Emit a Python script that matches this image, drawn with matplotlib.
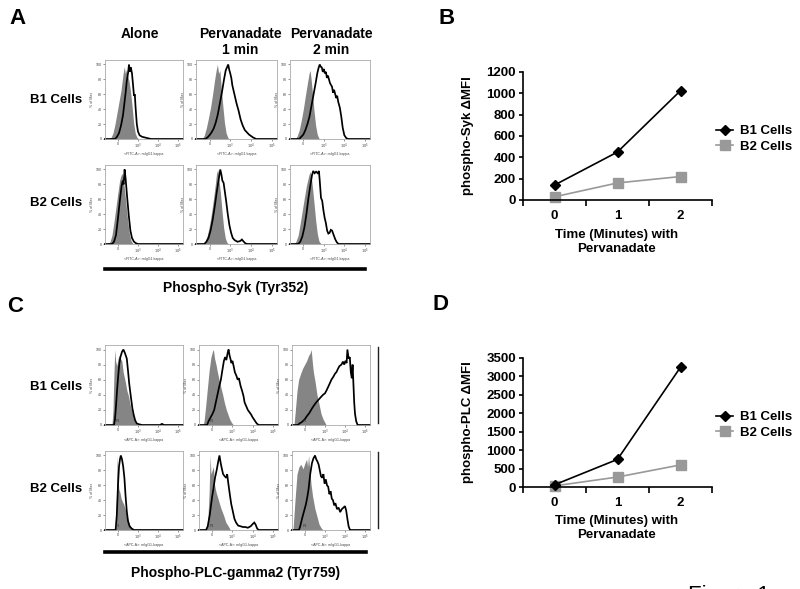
import matplotlib
matplotlib.use("Agg")
import matplotlib.pyplot as plt
from matplotlib.lines import Line2D

plt.rcParams['font.family'] = ['Liberation Sans', 'DejaVu Sans']

W, H = 800, 589

# ---- line plots (panels B and D) ----
minutes = [0, 1, 2]
syk_b1 = [140, 450, 1025]
syk_b2 = [30, 160, 220]
plc_b1 = [60, 750, 3250]
plc_b2 = [30, 270, 600]

# ---- flow histograms: (position, % of max) pairs ----
# x position in decade units: 0 -> "0", 1 -> 10^3, 2 -> 10^4, 3 -> 10^5
syk_b1_alone_ctrl = [(-0.45, 0), (-0.35, 2), (-0.25, 8), (-0.15, 20), (-0.05, 35), (0.05, 50), (0.15, 65),
                     (0.22, 80), (0.28, 92), (0.32, 97), (0.36, 88), (0.42, 93), (0.48, 85), (0.55, 78),
                     (0.62, 65), (0.7, 45), (0.78, 22), (0.86, 8), (0.95, 2), (1.05, 0)]
syk_b1_alone_stim = [(-0.15, 0), (-0.05, 3), (0.05, 8), (0.15, 18), (0.25, 32), (0.32, 48), (0.38, 62),
                     (0.44, 78), (0.5, 88), (0.55, 100), (0.6, 90), (0.64, 96), (0.7, 88), (0.76, 70),
                     (0.8, 58), (0.84, 60), (0.88, 42), (0.94, 20), (1.0, 10), (1.08, 5), (1.2, 3),
                     (1.35, 2), (1.5, 1), (1.65, 0)]
syk_b1_1min_ctrl = [(-0.35, 0), (-0.25, 5), (-0.15, 15), (-0.05, 28), (0.05, 42), (0.15, 60), (0.25, 80),
                    (0.32, 92), (0.38, 100), (0.44, 88), (0.5, 92), (0.56, 70), (0.64, 45), (0.72, 22),
                    (0.8, 8), (0.88, 2), (0.95, 0)]
syk_b1_1min_stim = [(-0.2, 0), (-0.1, 2), (0.0, 5), (0.1, 9), (0.2, 14), (0.3, 22), (0.4, 33), (0.5, 48),
                    (0.6, 63), (0.7, 80), (0.78, 92), (0.84, 96), (0.9, 100), (0.95, 93), (1.0, 88),
                    (1.05, 82), (1.1, 72), (1.2, 60), (1.3, 48), (1.4, 38), (1.5, 26), (1.6, 18),
                    (1.7, 12), (1.8, 9), (1.9, 6), (2.0, 4), (2.1, 2), (2.25, 0)]
syk_b1_2min_ctrl = [(-0.4, 0), (-0.3, 4), (-0.2, 12), (-0.1, 25), (0.0, 40), (0.1, 58), (0.2, 75),
                    (0.28, 88), (0.33, 92), (0.38, 80), (0.45, 60), (0.52, 38), (0.6, 18), (0.68, 6),
                    (0.76, 1), (0.82, 0)]
syk_b1_2min_stim = [(-0.2, 0), (-0.1, 3), (0.0, 6), (0.1, 12), (0.2, 20), (0.3, 30), (0.4, 45), (0.5, 60),
                    (0.6, 75), (0.68, 88), (0.74, 95), (0.8, 100), (0.85, 97), (0.9, 96), (0.95, 90),
                    (1.0, 94), (1.05, 88), (1.1, 90), (1.15, 82), (1.2, 85), (1.3, 75), (1.4, 70),
                    (1.45, 62), (1.5, 66), (1.6, 55), (1.65, 58), (1.7, 50), (1.78, 42), (1.85, 30),
                    (1.92, 15), (2.0, 5), (2.1, 1), (2.2, 0)]
syk_b2_alone_ctrl = [(-0.5, 0), (-0.4, 3), (-0.3, 12), (-0.2, 30), (-0.1, 50), (0.0, 70), (0.08, 85),
                     (0.15, 92), (0.2, 95), (0.26, 88), (0.34, 70), (0.42, 48), (0.5, 28), (0.58, 12),
                     (0.66, 4), (0.76, 0)]
syk_b2_alone_stim = [(-0.3, 0), (-0.2, 3), (-0.1, 12), (0.0, 35), (0.1, 60), (0.18, 78), (0.24, 85),
                     (0.28, 80), (0.33, 100), (0.38, 88), (0.46, 62), (0.54, 38), (0.62, 18), (0.7, 8),
                     (0.8, 3), (0.9, 1), (1.0, 0)]
syk_b2_1min_ctrl = [(-0.3, 0), (-0.2, 4), (-0.1, 12), (0.0, 25), (0.1, 42), (0.2, 62), (0.28, 80),
                    (0.34, 95), (0.4, 100), (0.46, 85), (0.52, 70), (0.6, 45), (0.68, 22), (0.76, 8),
                    (0.84, 2), (0.92, 0)]
syk_b2_1min_stim = [(-0.25, 0), (-0.15, 3), (-0.05, 8), (0.05, 18), (0.15, 32), (0.25, 50), (0.35, 70),
                    (0.45, 88), (0.52, 100), (0.58, 92), (0.62, 85), (0.68, 82), (0.74, 70), (0.8, 58),
                    (0.88, 40), (0.96, 25), (1.04, 15), (1.12, 8), (1.22, 5), (1.35, 3), (1.48, 4),
                    (1.56, 6), (1.62, 4), (1.72, 1), (1.82, 0)]
syk_b2_2min_ctrl = [(-0.45, 0), (-0.35, 4), (-0.25, 12), (-0.15, 28), (-0.05, 45), (0.05, 62), (0.15, 78),
                    (0.25, 90), (0.32, 97), (0.38, 92), (0.45, 75), (0.52, 55), (0.6, 32), (0.68, 14),
                    (0.76, 4), (0.86, 0)]
syk_b2_2min_stim = [(-0.25, 0), (-0.15, 3), (-0.05, 10), (0.05, 22), (0.15, 40), (0.25, 62), (0.35, 80),
                    (0.42, 92), (0.48, 98), (0.55, 95), (0.62, 97), (0.7, 95), (0.76, 98), (0.8, 85),
                    (0.86, 62), (0.92, 58), (0.98, 45), (1.04, 35), (1.1, 28), (1.16, 18), (1.22, 14),
                    (1.28, 15), (1.34, 19), (1.4, 18), (1.48, 12), (1.56, 6), (1.64, 2), (1.72, 0)]

plc_b1_alone_ctrl = [(-0.3, 0), (-0.25, 20), (-0.2, 70), (-0.16, 100), (-0.12, 85), (-0.06, 78), (0.0, 88),
                     (0.06, 92), (0.12, 88), (0.19, 85), (0.26, 70), (0.36, 58), (0.45, 45), (0.53, 38),
                     (0.6, 28), (0.69, 18), (0.78, 10), (0.86, 4), (0.95, 1), (1.05, 0)]
plc_b1_alone_stim = [(-0.2, 0), (-0.15, 8), (-0.1, 25), (-0.05, 45), (0.0, 62), (0.06, 80), (0.12, 90),
                     (0.2, 97), (0.27, 100), (0.35, 95), (0.44, 88), (0.5, 72), (0.56, 55), (0.64, 38),
                     (0.72, 22), (0.78, 14), (0.86, 6), (0.94, 2), (1.05, 1), (1.2, 0), (2.1, 0),
                     (2.2, 1.5), (2.3, 0)]
plc_b1_1min_ctrl = [(-0.45, 0), (-0.4, 5), (-0.32, 25), (-0.23, 50), (-0.15, 72), (-0.06, 90), (0.02, 98),
                    (0.06, 100), (0.12, 88), (0.19, 80), (0.26, 70), (0.34, 60), (0.43, 50), (0.52, 40),
                    (0.6, 30), (0.7, 20), (0.78, 14), (0.86, 8), (0.94, 4), (1.02, 1), (1.1, 0)]
plc_b1_1min_stim = [(-0.25, 0), (-0.18, 5), (-0.08, 10), (0.02, 15), (0.1, 20), (0.18, 30), (0.26, 40),
                    (0.34, 50), (0.43, 60), (0.5, 72), (0.58, 85), (0.64, 90), (0.7, 86), (0.76, 95),
                    (0.81, 100), (0.86, 92), (0.9, 88), (0.95, 82), (1.0, 85), (1.06, 78), (1.12, 70),
                    (1.2, 65), (1.26, 60), (1.32, 62), (1.4, 52), (1.48, 45), (1.55, 38), (1.6, 30),
                    (1.68, 25), (1.76, 20), (1.84, 17), (1.92, 14), (2.0, 10), (2.1, 6), (2.2, 2), (2.3, 0)]
plc_b1_2min_ctrl = [(-0.55, 0), (-0.48, 20), (-0.4, 45), (-0.32, 60), (-0.22, 68), (-0.12, 75), (-0.02, 80),
                    (0.08, 85), (0.18, 92), (0.25, 95), (0.31, 100), (0.36, 85), (0.42, 70), (0.5, 58),
                    (0.6, 40), (0.7, 28), (0.8, 15), (0.9, 8), (1.0, 3), (1.06, 0)]
plc_b1_2min_stim = [(-0.35, 0), (-0.28, 2), (-0.15, 4), (0.0, 8), (0.1, 12), (0.22, 16), (0.35, 22),
                    (0.45, 26), (0.56, 30), (0.66, 33), (0.76, 36), (0.9, 40), (1.0, 42), (1.08, 46),
                    (1.15, 50), (1.22, 54), (1.32, 60), (1.42, 64), (1.5, 68), (1.57, 70), (1.64, 74),
                    (1.72, 78), (1.82, 80), (1.9, 84), (1.96, 80), (2.02, 85), (2.08, 82), (2.12, 100),
                    (2.18, 88), (2.24, 90), (2.29, 70), (2.34, 62), (2.38, 80), (2.42, 55), (2.46, 30),
                    (2.5, 15), (2.56, 5), (2.63, 0)]
plc_b2_alone_ctrl = [(-0.12, 0), (-0.08, 40), (-0.04, 100), (0.0, 70), (0.04, 55), (0.1, 50), (0.16, 42),
                     (0.22, 38), (0.28, 35), (0.34, 30), (0.42, 22), (0.5, 14), (0.58, 7), (0.66, 3),
                     (0.76, 0)]
plc_b2_alone_stim = [(-0.12, 0), (-0.06, 20), (0.0, 60), (0.05, 85), (0.1, 95), (0.14, 100), (0.2, 95),
                     (0.26, 85), (0.32, 70), (0.38, 45), (0.44, 25), (0.5, 12), (0.58, 5), (0.68, 2),
                     (0.8, 0)]
plc_b2_1min_ctrl = [(-0.3, 0), (-0.22, 10), (-0.15, 50), (-0.1, 100), (-0.06, 75), (0.0, 80), (0.06, 85),
                    (0.12, 60), (0.2, 50), (0.31, 40), (0.42, 30), (0.56, 20), (0.68, 10), (0.8, 5),
                    (0.9, 0)]
plc_b2_1min_stim = [(-0.3, 0), (-0.22, 5), (-0.12, 20), (0.0, 45), (0.06, 55), (0.14, 70), (0.22, 80),
                    (0.3, 92), (0.36, 100), (0.42, 90), (0.48, 82), (0.54, 75), (0.62, 72), (0.7, 70),
                    (0.74, 75), (0.8, 62), (0.86, 50), (0.94, 35), (1.02, 25), (1.1, 15), (1.18, 10),
                    (1.28, 6), (1.4, 5), (1.52, 4), (1.64, 4), (1.76, 3), (1.9, 5), (2.0, 8), (2.08, 10),
                    (2.15, 7), (2.22, 2), (2.3, 0)]
plc_b2_2min_ctrl = [(-0.6, 0), (-0.5, 40), (-0.4, 75), (-0.3, 85), (-0.2, 88), (-0.1, 82), (0.0, 90),
                    (0.08, 95), (0.13, 85), (0.18, 100), (0.24, 80), (0.3, 62), (0.38, 45), (0.5, 28),
                    (0.6, 18), (0.7, 8), (0.8, 3), (0.9, 0)]
plc_b2_2min_stim = [(-0.3, 0), (-0.24, 5), (-0.15, 15), (-0.05, 25), (0.05, 35), (0.12, 45), (0.18, 55),
                    (0.26, 75), (0.35, 90), (0.42, 96), (0.5, 100), (0.56, 95), (0.62, 92), (0.68, 88),
                    (0.74, 80), (0.8, 72), (0.86, 70), (0.92, 75), (0.98, 62), (1.04, 68), (1.1, 60),
                    (1.16, 58), (1.22, 48), (1.28, 52), (1.34, 42), (1.4, 40), (1.46, 33), (1.52, 36),
                    (1.6, 28), (1.68, 30), (1.76, 24), (1.84, 28), (1.92, 30), (2.0, 32), (2.06, 26),
                    (2.12, 15), (2.18, 5), (2.25, 0)]

hist_yticks = [0, 20, 40, 60, 80, 100]
hist_xticks = [0, 1, 2, 3]
hist_xlabels = ['0', '$10^3$', '$10^4$', '$10^5$']
XMIN, XMAX = -0.65, 3.25

fig = plt.figure(figsize=(8, 5.89), dpi=100)


def rect(l, t, r, b):
    return [l / W, 1 - b / H, (r - l) / W, (b - t) / H]


def ftext(x, y, s, **kw):
    fig.text(x / W, 1 - y / H, s, **kw)


def hline(x0, x1, y, lw):
    fig.add_artist(Line2D([x0 / W, x1 / W], [1 - y / H, 1 - y / H], color='black', lw=lw))


def vline(x, y0, y1, lw):
    fig.add_artist(Line2D([x / W, x / W], [1 - y0 / H, 1 - y1 / H], color='#222222', lw=lw))


def histo(box, ctrl, stim, xlab, gate=False):
    ax = fig.add_axes(rect(*box))
    ax.fill_between([p[0] for p in ctrl], [p[1] for p in ctrl], color='#858585', lw=0)
    sx = [XMIN] + [p[0] for p in stim] + [XMAX]
    sy = [0] + [p[1] for p in stim] + [0]
    ax.plot(sx, sy, color='black', lw=1.25, clip_on=False, solid_joinstyle='miter')
    ax.set_xlim(XMIN, XMAX)
    ax.set_ylim(0, 106)
    ax.set_yticks(hist_yticks)
    ax.set_xticks(hist_xticks)
    ax.set_xticklabels(hist_xlabels)
    ax.tick_params(labelsize=2.6, length=1.3, width=0.4, pad=1, colors='#444444')
    for s in ax.spines.values():
        s.set_color('#aaaaaa')
        s.set_linewidth(0.6)
    ax.set_ylabel('% of Max', fontsize=2.6, labelpad=1, color='#444444')
    ax.set_xlabel(xlab, fontsize=2.6, labelpad=0.6, color='#444444')
    if gate:
        ax.text(0, 3, 'P1', fontsize=2.6, ha='center', va='bottom', color='#333333')
    return ax


def line_panel(box, b1, b2, ymax, ystep, ylab, leg_y):
    ax = fig.add_axes(rect(*box))
    ax.plot(minutes, b1, color='black', lw=1.2, marker='D', ms=5, clip_on=False, label='B1 Cells', zorder=3)
    ax.plot(minutes, b2, color='#999999', lw=1.2, marker='s', ms=6.5, clip_on=False, label='B2 Cells')
    ax.set_xlim(-0.5, 2.5)
    ax.set_ylim(0, ymax)
    ax.set_yticks(list(range(0, ymax + 1, ystep)))
    ax.set_xticks(minutes)
    ax.set_xticks([-0.5, 0.5, 1.5, 2.5], minor=True)
    ax.tick_params(axis='x', which='major', length=0, pad=7)
    ax.tick_params(axis='x', which='minor', length=4, width=1.2)
    ax.tick_params(axis='y', length=3, width=1.2, pad=2)
    for lab in ax.get_xticklabels() + ax.get_yticklabels():
        lab.set_fontsize(9.5)
        lab.set_fontweight('bold')
    for side in ['top', 'right']:
        ax.spines[side].set_visible(False)
    for side in ['left', 'bottom']:
        ax.spines[side].set_linewidth(1.2)
    ax.set_ylabel(ylab, fontsize=9.5, fontweight='bold')
    ax.yaxis.set_label_coords(-0.26, 0.5)
    ax.legend(loc='upper left', bbox_to_anchor=(716 / W, 1 - leg_y / H), bbox_transform=fig.transFigure,
              frameon=False, prop={'size': 9.5, 'weight': 'bold'}, handlelength=1.3, handletextpad=0.5,
              labelspacing=0.25, borderpad=0, borderaxespad=0)
    return ax


# panel letters
ftext(17, 18, 'A', fontsize=16, fontweight='bold', ha='center', va='center')
ftext(447, 18, 'B', fontsize=16, fontweight='bold', ha='center', va='center')
ftext(15, 307, 'C', fontsize=16, fontweight='bold', ha='center', va='center')
ftext(440, 305, 'D', fontsize=16, fontweight='bold', ha='center', va='center')

# column headers
ftext(140, 34, 'Alone', fontsize=10, fontweight='bold', ha='center', va='center')
ftext(240, 42, 'Pervanadate\n1 min', fontsize=10, fontweight='bold', ha='center', va='center',
      linespacing=1.15)
ftext(331, 42, 'Pervanadate\n2 min', fontsize=10, fontweight='bold', ha='center', va='center',
      linespacing=1.15)

# row labels
ftext(82, 100, 'B1 Cells', fontsize=9.5, fontweight='bold', ha='right', va='center')
ftext(82, 203, 'B2 Cells', fontsize=9.5, fontweight='bold', ha='right', va='center')
ftext(82, 387, 'B1 Cells', fontsize=9.5, fontweight='bold', ha='right', va='center')
ftext(82, 489, 'B2 Cells', fontsize=9.5, fontweight='bold', ha='right', va='center')

# panel A histograms
fitc = '<FITC-A>: mIgG1 kappa'
histo((105, 60, 183, 139), syk_b1_alone_ctrl, syk_b1_alone_stim, fitc)
histo((196, 60, 277, 139), syk_b1_1min_ctrl, syk_b1_1min_stim, fitc)
histo((290, 60, 370, 139), syk_b1_2min_ctrl, syk_b1_2min_stim, fitc)
histo((105, 165, 183, 244), syk_b2_alone_ctrl, syk_b2_alone_stim, fitc)
histo((196, 165, 277, 244), syk_b2_1min_ctrl, syk_b2_1min_stim, fitc)
histo((290, 165, 370, 244), syk_b2_2min_ctrl, syk_b2_2min_stim, fitc)
hline(105, 365, 269, 2.6)
ftext(236, 288, 'Phospho-Syk (Tyr352)', fontsize=10, fontweight='bold', ha='center', va='center')

# panel C histograms
apc = '<APC-A>: mIgG1-kappa'
histo((105, 345, 183, 425), plc_b1_alone_ctrl, plc_b1_alone_stim, apc, gate=True)
histo((199, 345, 278, 425), plc_b1_1min_ctrl, plc_b1_1min_stim, apc, gate=True)
histo((292, 345, 370, 425), plc_b1_2min_ctrl, plc_b1_2min_stim, apc, gate=True)
histo((105, 451, 183, 530), plc_b2_alone_ctrl, plc_b2_alone_stim, apc, gate=True)
histo((199, 451, 278, 530), plc_b2_1min_ctrl, plc_b2_1min_stim, apc, gate=True)
histo((292, 451, 370, 530), plc_b2_2min_ctrl, plc_b2_2min_stim, apc, gate=True)
vline(378, 347, 423, 1.0)
vline(378, 452, 528, 1.0)
hline(105, 366, 552, 2.6)
ftext(236, 573, 'Phospho-PLC-gamma2 (Tyr759)', fontsize=10, fontweight='bold', ha='center', va='center')

# panels B and D
line_panel((523, 72, 712, 200), syk_b1, syk_b2, 1200, 200, 'phospho-Syk \u0394MFI', 125)
ftext(617, 242, 'Time (Minutes) with\nPervanadate', fontsize=9.5, fontweight='bold', ha='center',
      va='center', linespacing=1.3)
line_panel((523, 358, 712, 487), plc_b1, plc_b2, 3500, 500, 'phospho-PLC \u0394MFI', 411)
ftext(617, 528, 'Time (Minutes) with\nPervanadate', fontsize=9.5, fontweight='bold', ha='center',
      va='center', linespacing=1.3)

# figure caption, cut off by the bottom edge as in the source image
ftext(688, 585, 'Figure 1', fontsize=16, va='top', ha='left')

fig.savefig('out.png', dpi=100)
